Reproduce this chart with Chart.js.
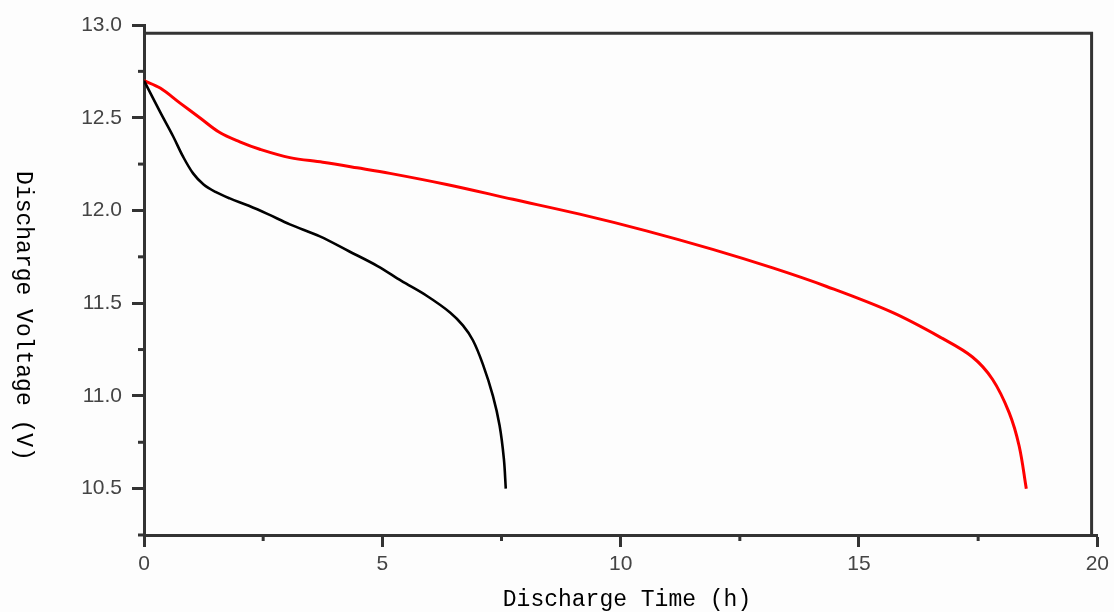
<!DOCTYPE html>
<html>
<head>
<meta charset="utf-8">
<script src="https://cdn.jsdelivr.net/npm/chart.js@4/dist/chart.umd.min.js"></script>
<style>
  html, body { margin: 0; padding: 0; background: #fdfdfd; }
  #wrap { width: 1114px; height: 612px; }
</style>
</head>
<body>
<div id="wrap"><canvas id="discharge-chart" width="1114" height="612"></canvas></div>
<script>
// discharge curves, time in hours, voltage in volts
var blackTime = [0, 0.34, 0.61, 0.82, 1.03, 1.25, 1.5, 1.8, 2.2, 2.6, 3.06, 3.69, 4.3, 4.9, 5.4, 5.93, 6.42, 6.69, 6.9, 7.11, 7.32, 7.46, 7.55, 7.59];
var blackVolt = [12.70, 12.53, 12.40, 12.29, 12.20, 12.14, 12.10, 12.065, 12.025, 11.98, 11.925, 11.86, 11.78, 11.70, 11.62, 11.54, 11.45, 11.38, 11.30, 11.17, 11.00, 10.84, 10.66, 10.50];

var redTime = [0, 0.34, 0.75, 1.17, 1.59, 2.01, 2.43, 3.06, 3.75, 4.47, 5.16, 6.35, 7.74, 9.14, 10.54, 11.93, 13.19, 14.32, 15.70, 16.75, 17.38, 17.80, 18.15, 18.36, 18.51];
var redVolt = [12.70, 12.66, 12.58, 12.50, 12.42, 12.37, 12.33, 12.285, 12.26, 12.23, 12.20, 12.14, 12.06, 11.98, 11.89, 11.79, 11.69, 11.59, 11.45, 11.31, 11.21, 11.09, 10.91, 10.73, 10.50];

var xTitle = 'Discharge Time (h)';
var yTitle = 'Discharge Voltage (V)';

function toPoints( xs, ys ) {
  var pts = [];
  for (var i = 0; i < xs.length; i++) pts.push({ x: xs[i], y: ys[i] });
  return pts;
}

function isMajor( value, step ) {
  return Math.abs(value / step - Math.round(value / step)) < 1e-6;
}

var axisColor = '#333333';

// minor ticks, frame on top/right, and the axis titles
var framePlugin = {
  id: 'frame',
  afterDraw: function( chart ) {
    var ctx = chart.ctx;
    var xs = chart.scales.x, ys = chart.scales.y;
    ctx.save();
    ctx.strokeStyle = axisColor;
    ctx.lineWidth = 3;
    // minor ticks
    ys.ticks.forEach(function( t ) {
      if (isMajor(t.value, 0.5)) return;
      var py = ys.getPixelForValue(t.value);
      ctx.beginPath(); ctx.moveTo(xs.left - 6, py); ctx.lineTo(xs.left, py); ctx.stroke();
    });
    xs.ticks.forEach(function( t ) {
      if (isMajor(t.value, 5)) return;
      var px = xs.getPixelForValue(t.value);
      ctx.beginPath(); ctx.moveTo(px, ys.bottom); ctx.lineTo(px, ys.bottom + 6); ctx.stroke();
    });
    // top and right frame
    var top = ys.getPixelForValue(12.955);
    var right = xs.getPixelForValue(19.88);
    ctx.beginPath();
    ctx.moveTo(xs.left, top);
    ctx.lineTo(right, top);
    ctx.lineTo(right, ys.bottom);
    ctx.stroke();
    // titles
    ctx.fillStyle = '#000';
    ctx.font = '23px "Liberation Mono", monospace';
    ctx.textAlign = 'center';
    ctx.textBaseline = 'middle';
    ctx.fillText(xTitle, 627, 600);
    ctx.translate(23, 316);
    ctx.rotate(Math.PI / 2);
    ctx.fillText(yTitle, 0, 0);
    ctx.restore();
  }
};

var tickFont = { family: '"Liberation Sans", Arial, sans-serif', size: 21 };

var dischargeChart = new Chart(
  document.getElementById('discharge-chart').getContext('2d'),
  {
    type: 'line',
    data: {
      datasets: [{
        data: toPoints(blackTime, blackVolt),
        borderColor: '#000000',
        borderWidth: 2.6,
        pointRadius: 0,
        tension: 0.35
      }, {
        data: toPoints(redTime, redVolt),
        borderColor: '#ff0000',
        borderWidth: 3,
        pointRadius: 0,
        tension: 0.35
      }]
    },
    options: {
      responsive: false,
      animation: false,
      layout: { padding: { top: 25, right: 16, left: 0, bottom: 0 } },
      plugins: {
        legend: { display: false },
        tooltip: { enabled: false }
      },
      scales: {
        x: {
          type: 'linear',
          min: 0,
          max: 20,
          afterFit: function( scale ) { scale.height = 77; },
          border: { display: true, color: axisColor, width: 3 },
          grid: {
            drawOnChartArea: false,
            tickLength: 12,
            tickWidth: 3,
            tickColor: function( c ) {
              return c.tick && isMajor(c.tick.value, 5) ? axisColor : 'rgba(0,0,0,0)';
            }
          },
          ticks: {
            stepSize: 2.5,
            autoSkip: false,
            maxRotation: 0,
            padding: 5,
            color: '#444',
            font: tickFont,
            callback: function( v ) { return isMajor(v, 5) ? String(v) : ''; }
          }
        },
        y: {
          min: 10.25,
          max: 13,
          afterFit: function( scale ) { scale.width = 144; },
          border: { display: true, color: axisColor, width: 3 },
          grid: {
            drawOnChartArea: false,
            tickLength: 12,
            tickWidth: 3,
            tickColor: function( c ) {
              return c.tick && isMajor(c.tick.value, 0.5) ? axisColor : 'rgba(0,0,0,0)';
            }
          },
          ticks: {
            stepSize: 0.25,
            autoSkip: false,
            padding: 10,
            color: '#444',
            font: tickFont,
            callback: function( v ) { return isMajor(v, 0.5) ? v.toFixed(1) : ''; }
          }
        }
      }
    },
    plugins: [framePlugin]
  }
);
</script>
</body>
</html>
